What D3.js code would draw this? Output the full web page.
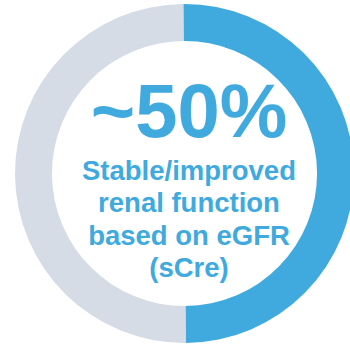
<!DOCTYPE html>
<html>
<head>
<meta charset="utf-8">
<script src="https://cdn.jsdelivr.net/npm/d3@7"></script>
<style>
  html, body { margin: 0; padding: 0; background: #ffffff; }
  svg { display: block; }
</style>
</head>
<body>
<div id="chart"></div>
<script>
// Share of patients by renal function outcome
const categories = ["Stable/improved", "Other"];
const values = [50, 50];
const colors = ["#40aade", "#d5dce6"];
const headline = "~50%";
const captionLines = ["Stable/improved", "renal function", "based on eGFR", "(sCre)"];

const width = 350, height = 346;
const cx = 184.5, cy = 173.5;
const outerR = 169.5, innerR = 132.5;

const svg = d3.select("#chart").append("svg")
  .attr("width", width)
  .attr("height", height);

const g = svg.append("g").attr("transform", `translate(${cx},${cy})`);

const pie = d3.pie()
  .value(d => d.value)
  .sort(null)
  .startAngle(-0.007)
  .endAngle(2 * Math.PI - 0.007);

const arc = d3.arc().innerRadius(innerR).outerRadius(outerR);

const data = categories.map((c, i) => ({ category: c, value: values[i], color: colors[i] }));

g.selectAll("path.slice")
  .data(pie(data))
  .join("path")
  .attr("class", "slice")
  .attr("d", arc)
  .attr("fill", d => d.data.color);

const textX = 189;
const font = "'Liberation Sans', Arial, Helvetica, sans-serif";

svg.append("text")
  .attr("x", textX)
  .attr("y", 136.5)
  .attr("text-anchor", "middle")
  .attr("font-family", font)
  .attr("font-weight", "bold")
  .attr("font-size", 76)
  .attr("fill", colors[0])
  .text(headline);

svg.selectAll("text.caption")
  .data(captionLines)
  .join("text")
  .attr("class", "caption")
  .attr("x", textX)
  .attr("y", (d, i) => 179.5 + i * 32.5)
  .attr("text-anchor", "middle")
  .attr("font-family", font)
  .attr("font-weight", "bold")
  .attr("font-size", 27.5)
  .attr("fill", colors[0])
  .text(d => d);
</script>
</body>
</html>
